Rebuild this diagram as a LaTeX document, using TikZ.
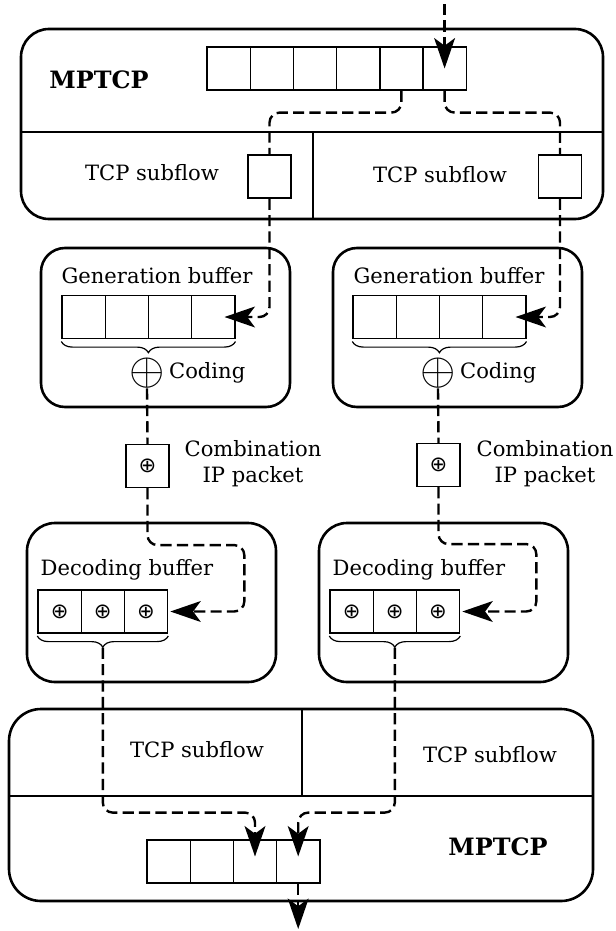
\documentclass[tikz,border=0pt]{standalone}
\usepackage{graphicx}
\usepackage{fontspec}
\setmainfont{DejaVu Serif}
\newfontfamily\opfont{DejaVu Sans}
\usetikzlibrary{arrows.meta,calc,positioning,decorations.pathreplacing}
\tikzset{
  >={Stealth[length=7.6mm,width=5.2mm,inset=1.9mm]},
  box/.style={draw,rounded corners=7mm,line width=0.65mm,inner sep=0pt},
  cell/.style={draw,line width=0.35mm,minimum width=10.8mm,minimum height=10.7mm,inner sep=0pt},
  oc/.style={cell,font=\opfont\fontsize{15}{15}\selectfont},
  xo/.style={font=\fontsize{23}{23}\selectfont,inner sep=0pt},
  flow/.style={line width=0.6mm,dash pattern=on 2.8mm off 1.3mm,rounded corners=2.5mm},
  brc/.style={decorate,decoration={brace,mirror,amplitude=2.8mm},line width=0.3mm},
  wall/.style={line width=0.65mm},
  bold/.style={font=\fontsize{17}{20}\selectfont\bfseries},
  every node/.style={font=\fontsize{15}{18.5}\selectfont},
}

\begin{document}
\begin{tikzpicture}[x=0.25mm,y=-0.25mm]
\useasboundingbox (0,0) rectangle (615,931);
\node[box,minimum width=145.5mm,minimum height=47.5mm] (mptcpT) at (312,124){};
\draw[wall] (21,132) -- (603,132); \draw[wall] (313,132) -- (313,219);
\node[bold] (lt) at (99,80){MPTCP};
\node[cell] (t1) at (228.6,68.5){}; \node[cell] (t2) at (271.8,68.5){}; \node[cell] (t3) at (315,68.5){};
\node[cell] (t4) at (358.2,68.5){}; \node[cell] (t5) at (401.4,68.5){}; \node[cell] (t6) at (444.6,68.5){};
\node (sfl) at (152,173){TCP subflow}; \node (sfr) at (440,175){TCP subflow};
\node[cell] (sl) at (269.5,176.5){}; \node[cell] (sr) at (560,176.5){};

\node[box,rounded corners=6mm,minimum width=62.25mm,minimum height=39.75mm] (genL) at (165.5,327.5){};
\node[box,rounded corners=6mm,minimum width=62.25mm,minimum height=39.75mm] (genR) at (457.5,327.5){};
\node (gtl) at (157,276){Generation buffer}; \node (gtr) at (449,276){Generation buffer};
\node[cell] (gl1) at (83.6,317){}; \node[cell] (gl2) at (126.8,317){}; \node[cell] (gl3) at (170,317){}; \node[cell] (gl4) at (213.2,317){};
\node[cell] (gr1) at (374.6,317){}; \node[cell] (gr2) at (417.8,317){}; \node[cell] (gr3) at (461,317){}; \node[cell] (gr4) at (504.2,317){};
\draw[brc] ([yshift=-0.6mm]gl1.south west) -- ([yshift=-0.6mm]gl4.south east);
\draw[brc] ([yshift=-0.6mm]gr1.south west) -- ([yshift=-0.6mm]gr4.south east);
\node[xo] (xl) at (147,373){\scalebox{1.3}{$\oplus$}}; \node[xo] (xr) at (438,373){\scalebox{1.3}{$\oplus$}};
\node[right=-0.2mm of xl] (cdl){Coding}; \node[right=-0.2mm of xr] (cdr){Coding};

\node[oc] (cl) at (147.5,466){⊕}; \node[oc] (cr) at (438.5,465){⊕};
\node[align=center] (pkl) at (253,464){Combination\\IP packet};
\node[align=center] (pkr) at (545,464){Combination\\IP packet};

\node[box,minimum width=62.25mm,minimum height=39.75mm] (decL) at (151.5,602.5){};
\node[box,minimum width=62.25mm,minimum height=39.75mm] (decR) at (443.5,602.5){};
\node (dtl) at (127,570){Decoding buffer}; \node (dtr) at (419,570){Decoding buffer};
\node[oc] (dl1) at (59.6,611.5){⊕}; \node[oc] (dl2) at (102.8,611.5){⊕}; \node[oc] (dl3) at (146,611.5){⊕};
\node[oc] (dr1) at (351.6,611.5){⊕}; \node[oc] (dr2) at (394.8,611.5){⊕}; \node[oc] (dr3) at (438,611.5){⊕};
\draw[brc] ([yshift=-0.6mm]dl1.south west) -- ([yshift=-0.6mm]dl3.south east);
\draw[brc] ([yshift=-0.6mm]dr1.south west) -- ([yshift=-0.6mm]dr3.south east);

\node[box,rounded corners=8mm,minimum width=146mm,minimum height=48mm] (mptcpB) at (301,805){};
\draw[wall] (9,796) -- (593,796); \draw[wall] (302,709) -- (302,796);
\node (sbl) at (197,750){TCP subflow}; \node (sbr) at (490,755){TCP subflow};
\node[bold] (lb) at (498,847){MPTCP};
\node[cell] (b1) at (168.6,861.5){}; \node[cell] (b2) at (211.8,861.5){}; \node[cell] (b3) at (255,861.5){}; \node[cell] (b4) at (298.2,861.5){};

\coordinate (inT) at (444.6,4); \coordinate (outB) at (298.2,929);
\coordinate (tl) at ($(dl2.south)+(0,14)$); \coordinate (tr) at ($(dr2.south)+(0,14)$);
\draw[flow,->] (inT) -- (t6.center);
\draw[flow] (t5.south) -- ++(0,22) -| (sl.north); \draw[flow] (t6.south) -- ++(0,22) -| (sr.north);
\draw[flow,->] (sl.south) |- ($(gl4.east)+(-11,0)$); \draw[flow,->] (sr.south) |- ($(gr4.east)+(-11,0)$);
\draw[flow] (xl.south) -- (cl.north); \draw[flow] (xr.south) -- (cr.north);
\draw[flow,->] (cl.south) -- ++(0,57) -| ($(dl3.east)+(76,0)$) -- ($(dl3.east)+(2,0)$);
\draw[flow,->] (cr.south) -- ++(0,57) -| ($(dr3.east)+(76,0)$) -- ($(dr3.east)+(2,0)$);
\draw[flow,->] (tl) -- ++(0,165) -| ($(b3.center)+(0,-5)$);
\draw[flow,->] (tr) -- ++(0,165) -| ($(b4.center)+(0,-5)$);
\draw[flow,->] (b4.south) -- (outB);
\end{tikzpicture}
\end{document}
